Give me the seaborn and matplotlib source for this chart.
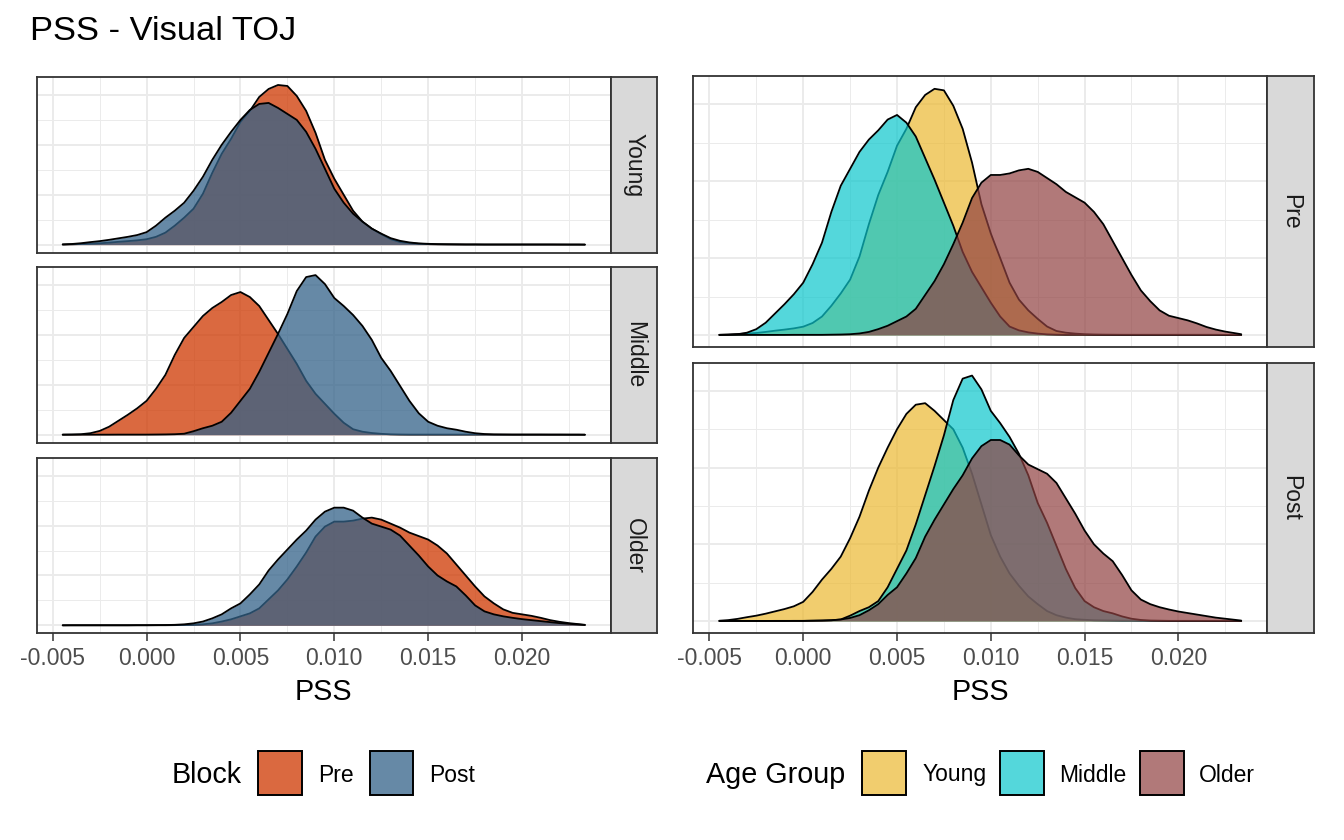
import numpy as np
import pandas as pd
import matplotlib
matplotlib.use("Agg")
import matplotlib.pyplot as plt
from matplotlib.patches import Rectangle
from matplotlib.colors import to_rgba
import seaborn as sns

sns.set_theme(style="white")
plt.rcParams['font.family'] = ['Liberation Sans', 'DejaVu Sans']
plt.rcParams['text.color'] = 'black'

# ---------------- data (densities) ----------------
pss = [-0.00447, -0.0040, -0.0035, -0.0030, -0.0025, -0.0020, -0.0015, -0.0010, -0.0005, 0.0000,
       0.0005, 0.0010, 0.0015, 0.0020, 0.0025, 0.0030, 0.0035, 0.0040, 0.0045, 0.0050,
       0.0055, 0.0060, 0.0065, 0.0070, 0.0075, 0.0080, 0.0085, 0.0090, 0.0095, 0.0100,
       0.0105, 0.0110, 0.0115, 0.0120, 0.0125, 0.0130, 0.0135, 0.0140, 0.0145, 0.0150,
       0.0155, 0.0160, 0.0165, 0.0170, 0.0175, 0.0180, 0.0185, 0.0190, 0.0195, 0.0200,
       0.0205, 0.0210, 0.0215, 0.0220, 0.0225, 0.0230, 0.02335]

young_pre = [0.1, 0.3, 0.6, 0.9, 1.3, 2.0, 2.8, 3.5, 4.3, 5.4,
             7.8, 12, 19, 27, 36, 51, 72, 91, 106, 123,
             134, 148, 156, 160, 159, 149, 134, 112, 85, 66,
             50, 34, 23, 16, 10.5, 5.5, 2.6, 1.5, 0.9, 0.5,
             0.3, 0.2, 0.15, 0.1, 0.1, 0.1, 0.1, 0.1, 0.1, 0.1,
             0.1, 0.1, 0.1, 0.1, 0.05, 0.05, 0.0]
young_post = [0.2, 0.6, 1.4, 2.5, 3.5, 4.8, 6.3, 7.8, 9.6, 12.5,
              19, 27, 34, 42, 54, 68, 85, 100, 113, 125,
              135, 141, 142, 137, 131, 125, 113, 96, 76, 56,
              42, 31, 23, 16, 11, 6.5, 3.8, 2.2, 1.2, 0.8,
              0.5, 0.4, 0.3, 0.2, 0.2, 0.1, 0.1, 0.1, 0.1, 0.1,
              0.1, 0.1, 0.1, 0.05, 0.05, 0.05, 0.0]
middle_pre = [0.1, 0.2, 0.5, 1.5, 3.8, 8, 14, 20, 26.5, 34,
              46, 60, 80, 97, 108, 119, 127, 133, 140, 143,
              138, 129, 115, 101, 86, 71, 54, 41, 31, 21,
              12, 5.5, 3, 1.7, 0.9, 0.4, 0.2, 0.1, 0.1, 0.1,
              0.1, 0.1, 0.1, 0.1, 0.1, 0.1, 0.1, 0.1, 0.1, 0.1,
              0.1, 0.1, 0.1, 0.1, 0.05, 0.05, 0.0]
middle_post = [0.0, 0.05, 0.05, 0.05, 0.05, 0.05, 0.1, 0.1, 0.1, 0.1,
               0.2, 0.3, 0.5, 1.0, 3.5, 6.5, 9, 13, 22, 34,
               46, 63, 82, 101, 121, 144, 158, 160, 151, 137,
               129, 120, 109, 95, 77, 64, 49, 34, 21.5, 13,
               9, 6.5, 5, 3, 1.5, 0.7, 0.3, 0.2, 0.1, 0.1,
               0.1, 0.1, 0.05, 0.05, 0.05, 0.05, 0.0]
older_pre = [0.0, 0.05, 0.05, 0.05, 0.05, 0.05, 0.05, 0.05, 0.1, 0.1,
             0.1, 0.1, 0.2, 0.3, 0.5, 1.0, 2.0, 3.8, 6, 9,
             12, 17, 26, 35, 46, 59, 73, 89, 99, 104,
             104, 105, 107, 108, 106, 102, 98, 93, 89.5, 86,
             80, 72, 61, 50, 39, 29, 22, 16, 12.5, 11,
             9.5, 7.5, 5.2, 3.5, 2.2, 1.2, 0.5]
older_post = [0.0, 0.05, 0.05, 0.05, 0.05, 0.05, 0.05, 0.05, 0.1, 0.1,
              0.2, 0.3, 0.5, 1, 2, 3.8, 7, 11, 17, 22,
              31, 41, 55, 66, 76, 86, 95, 106, 114, 118,
              118, 115, 108, 102, 99, 96, 90, 80, 70, 59,
              50, 44, 39, 30, 20, 14, 11, 9, 7.5, 6.2,
              5.2, 4.2, 3.2, 2.2, 1.5, 0.8, 0.3]

ages = ["Young", "Middle", "Older"]
blocks = ["Pre", "Post"]
x_ticks = [-0.005, 0.000, 0.005, 0.010, 0.015, 0.020]
x_tick_labels = ["-0.005", "0.000", "0.005", "0.010", "0.015", "0.020"]
title = "PSS - Visual TOJ"

dens = {("Young", "Pre"): young_pre, ("Young", "Post"): young_post,
        ("Middle", "Pre"): middle_pre, ("Middle", "Post"): middle_post,
        ("Older", "Pre"): older_pre, ("Older", "Post"): older_post}

rows = []
for (a, b), vals in dens.items():
    for xv, dv in zip(pss, vals):
        rows.append({"age": a, "block": b, "pss": xv, "density": dv})
df = pd.DataFrame(rows)

# ---------------- style ----------------
block_colors = {"Pre": "#CE3700", "Post": "#336288"}
block_alpha = 0.75
age_colors = {"Young": "#ECB830", "Middle": "#0CC7CD", "Older": "#904141"}
age_alpha = 0.7

W, H = 1344, 840
fig = plt.figure(figsize=(W / 100, H / 100), dpi=100)
fig.patch.set_facecolor("white")

SMALL = 16.5
BIG = 20.7

xmin, xmax = min(pss), max(pss)
xr = xmax - xmin
XLIM = (xmin - 0.05 * xr, xmax + 0.05 * xr)
M = df["density"].max()
YLIM = (-0.05 * M, 1.05 * M)


def px_axes(x0, y0, x1, y1):
    return fig.add_axes([x0 / W, 1 - y1 / H, (x1 - x0) / W, (y1 - y0) / H])


def style_panel(ax, bottom):
    ax.set_facecolor("white")
    ax.set_xlim(*XLIM)
    ax.set_ylim(*YLIM)
    ax.set_xticks(x_ticks)
    ax.set_xticks([-0.0025, 0.0025, 0.0075, 0.0125, 0.0175, 0.0225], minor=True)
    ax.set_yticks([0, 50, 100, 150])
    ax.set_yticks([25, 75, 125], minor=True)
    ax.grid(which="major", color="#EBEBEB", lw=1.4, zorder=0)
    ax.grid(which="minor", color="#EBEBEB", lw=0.7, zorder=0)
    ax.set_axisbelow(True)
    for s in ax.spines.values():
        s.set_color("#333333")
        s.set_linewidth(1.3)
        s.set_zorder(10)
    ax.tick_params(axis="y", which="both", left=False, labelleft=False)
    ax.tick_params(axis="x", which="minor", bottom=False)
    if bottom:
        ax.set_xticklabels(x_tick_labels)
        ax.tick_params(axis="x", which="major", bottom=True, length=5.5, width=1.1,
                       color="#333333", labelsize=SMALL, labelcolor="#4D4D4D", pad=4.5)
    else:
        ax.tick_params(axis="x", which="major", bottom=False, labelbottom=False)
    ax.set_xlabel("")
    ax.set_ylabel("")


def add_strip(x0, y0, x1, y1, label):
    s = px_axes(x0, y0, x1, y1)
    s.set_facecolor("#D9D9D9")
    s.set_xticks([])
    s.set_yticks([])
    for sp in s.spines.values():
        sp.set_color("#333333")
        sp.set_linewidth(1.3)
    s.text(0.5, 0.5, label, rotation=-90, ha="center", va="center",
           fontsize=SMALL, color="#1A1A1A", transform=s.transAxes)


def draw_group(ax, sub, color, alpha, z):
    ax.fill_between(sub["pss"], 0, sub["density"], facecolor=to_rgba(color, alpha),
                    linewidth=0, zorder=z)
    sns.lineplot(data=sub, x="pss", y="density", ax=ax, color="black", lw=1.3,
                 estimator=None, sort=False, zorder=z + 0.05, legend=False)


# ---------------- left panel: rows = age, fill = block ----------------
LX0, LX1, LSTRIP = 36.6, 611.0, 657.3
left_rows = [(77.0, 252.6), (267.1, 442.7), (457.8, 633.3)]
for i, age in enumerate(ages):
    y0, y1 = left_rows[i]
    ax = px_axes(LX0, y0, LX1, y1)
    for j, b in enumerate(blocks):
        sub = df[(df["age"] == age) & (df["block"] == b)]
        draw_group(ax, sub, block_colors[b], block_alpha, 2 + j * 0.2)
    style_panel(ax, bottom=(i == len(ages) - 1))
    add_strip(LX1, y0, LSTRIP, y1, age)

# ---------------- right panel: rows = block, fill = age ----------------
RX0, RX1, RSTRIP = 693.3, 1267.3, 1314.0
right_rows = [(76.5, 347.3), (363.3, 633.3)]
for i, b in enumerate(blocks):
    y0, y1 = right_rows[i]
    ax = px_axes(RX0, y0, RX1, y1)
    for j, age in enumerate(ages):
        sub = df[(df["age"] == age) & (df["block"] == b)]
        draw_group(ax, sub, age_colors[age], age_alpha, 2 + j * 0.2)
    style_panel(ax, bottom=(i == len(blocks) - 1))
    add_strip(RX1, y0, RSTRIP, y1, b)

# ---------------- titles ----------------
fig.text(30 / W, 1 - 40 / H, title, fontsize=24.8, color="black", ha="left", va="baseline")
fig.text((LX0 + LX1) / 2 / W, 1 - 700 / H, "PSS", fontsize=BIG, color="black",
         ha="center", va="baseline")
fig.text((RX0 + RX1) / 2 / W, 1 - 700 / H, "PSS", fontsize=BIG, color="black",
         ha="center", va="baseline")

# ---------------- legends ----------------
KEY_Y0, KEY_Y1 = 750.5, 794.5
LEG_CY = 775


def key(x0, color, alpha):
    fig.add_artist(Rectangle((x0 / W, 1 - KEY_Y1 / H), 43.5 / W, (KEY_Y1 - KEY_Y0) / H,
                             transform=fig.transFigure, facecolor=to_rgba(color, alpha),
                             edgecolor="black", lw=1.4))


def legend_text(x, s, size):
    fig.text(x / W, 1 - LEG_CY / H, s, fontsize=size, color="black", ha="left", va="center")


legend_text(171.5, "Block", BIG)
key(258.3, block_colors["Pre"], block_alpha)
legend_text(318.5, "Pre", SMALL)
key(369.5, block_colors["Post"], block_alpha)
legend_text(429.5, "Post", SMALL)

legend_text(706, "Age Group", BIG)
key(862, age_colors["Young"], age_alpha)
legend_text(922.5, "Young", SMALL)
key(1000, age_colors["Middle"], age_alpha)
legend_text(1059.5, "Middle", SMALL)
key(1140, age_colors["Older"], age_alpha)
legend_text(1198.5, "Older", SMALL)

fig.savefig("out.png", dpi=100, facecolor="white")
